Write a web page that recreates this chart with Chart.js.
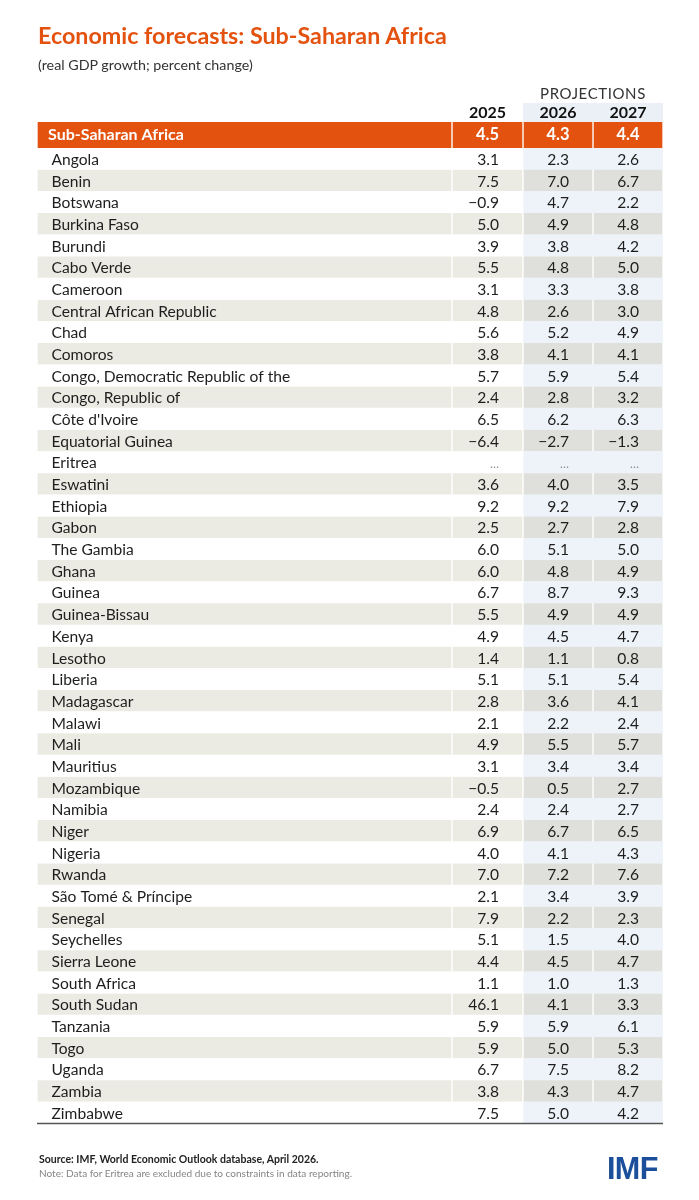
<!DOCTYPE html>
<html>
<head>
<meta charset="utf-8">
<title>Economic forecasts: Sub-Saharan Africa</title>
<script src="https://cdn.jsdelivr.net/npm/chart.js@4.4.1/dist/chart.umd.min.js"></script>
<style>
  html, body { margin: 0; padding: 0; background: #fff; }
  body { width: 699px; height: 1200px; position: relative; overflow: hidden; font-family: Lato, "Noto Sans", sans-serif; }
  #table { position: absolute; left: 0; top: 0; width: 699px; height: 1200px; }
  .txt { position: absolute; white-space: nowrap; line-height: 1; }
  .title { left: 38px; top: 24px; font-size: 23px; font-weight: 700; color: #e4520f; }
  .subtitle { left: 38px; top: 58px; font-size: 14px; color: #333; }
  .source { left: 39px; top: 1154px; font-size: 11.5px; font-weight: 700; color: #222; }
  .note { left: 39px; top: 1168px; font-size: 11px; color: #858585; }
  .logo { right: 41px; top: 1153px; font-family: "Liberation Sans", Arial, sans-serif; font-size: 28px; font-weight: 700; color: #1b4f9b; letter-spacing: -0.5px; }
</style>
</head>
<body>
<canvas id="table" width="699" height="1200"></canvas>
<div class="txt title" data-w="409">Economic forecasts: Sub-Saharan Africa</div>
<div class="txt subtitle" data-w="215">(real GDP growth; percent change)</div>
<div class="txt source" data-w="280">Source: IMF, World Economic Outlook database, April 2026.</div>
<div class="txt note" data-w="313">Note: Data for Eritrea are excluded due to constraints in data reporting.</div>
<div class="txt logo" data-w="51">IMF</div>
<script>
// values as printed in the table (null = not reported)
const regionName = 'Sub-Saharan Africa';
const regionGrowth = [4.5, 4.3, 4.4];
const years = ['2025', '2026', '2027'];
const projectionsLabel = 'PROJECTIONS';

const countries = [
    'Angola', 'Benin', 'Botswana', 'Burkina Faso', 'Burundi', 'Cabo Verde', 'Cameroon',
    'Central African Republic', 'Chad', 'Comoros', 'Congo, Democratic Republic of the',
    'Congo, Republic of', "Côte d'Ivoire", 'Equatorial Guinea', 'Eritrea', 'Eswatini',
    'Ethiopia', 'Gabon', 'The Gambia', 'Ghana', 'Guinea', 'Guinea-Bissau', 'Kenya',
    'Lesotho', 'Liberia', 'Madagascar', 'Malawi', 'Mali', 'Mauritius', 'Mozambique',
    'Namibia', 'Niger', 'Nigeria', 'Rwanda', 'São Tomé & Príncipe', 'Senegal',
    'Seychelles', 'Sierra Leone', 'South Africa', 'South Sudan', 'Tanzania', 'Togo',
    'Uganda', 'Zambia', 'Zimbabwe'
];

const growth2025 = [
    3.1, 7.5, -0.9, 5.0, 3.9, 5.5, 3.1, 4.8, 5.6, 3.8, 5.7, 2.4, 6.5, -6.4, null, 3.6,
    9.2, 2.5, 6.0, 6.0, 6.7, 5.5, 4.9, 1.4, 5.1, 2.8, 2.1, 4.9, 3.1, -0.5, 2.4, 6.9,
    4.0, 7.0, 2.1, 7.9, 5.1, 4.4, 1.1, 46.1, 5.9, 5.9, 6.7, 3.8, 7.5
];
const growth2026 = [
    2.3, 7.0, 4.7, 4.9, 3.8, 4.8, 3.3, 2.6, 5.2, 4.1, 5.9, 2.8, 6.2, -2.7, null, 4.0,
    9.2, 2.7, 5.1, 4.8, 8.7, 4.9, 4.5, 1.1, 5.1, 3.6, 2.2, 5.5, 3.4, 0.5, 2.4, 6.7,
    4.1, 7.2, 3.4, 2.2, 1.5, 4.5, 1.0, 4.1, 5.9, 5.0, 7.5, 4.3, 5.0
];
const growth2027 = [
    2.6, 6.7, 2.2, 4.8, 4.2, 5.0, 3.8, 3.0, 4.9, 4.1, 5.4, 3.2, 6.3, -1.3, null, 3.5,
    7.9, 2.8, 5.0, 4.9, 9.3, 4.9, 4.7, 0.8, 5.4, 4.1, 2.4, 5.7, 3.4, 2.7, 2.7, 6.5,
    4.3, 7.6, 3.9, 2.3, 4.0, 4.7, 1.3, 3.3, 6.1, 5.3, 8.2, 4.7, 4.2
];

// layout: x scale runs in table units (one unit = one pixel across the table)
const COL_EDGES = [0, 415, 486, 556, 626];
const HEADER_H = 26;
const ROW_H = 21.68;
const ORANGE = '#e4520f';

const columns = [growth2025, growth2026, growth2027];

// stretch the html texts to the widths measured on the original
document.querySelectorAll('.txt').forEach(el => {
    const w = el.getBoundingClientRect().width;
    const size = parseFloat(getComputedStyle(el).fontSize);
    el.style.fontSize = (size * Number(el.dataset.w) / w).toFixed(2) + 'px';
});

function fmt(v) {
    if (v === null || v === undefined) return '\u2026';
    return (v < 0 ? '\u2212' : '') + Math.abs(v).toFixed(1);
}

function cellColor(col, i) {
    const shaded = i % 2 === 1;
    if (col < 2) return shaded ? '#ecebe3' : '#ffffff';
    return shaded ? '#dfe0db' : '#eef3f9';
}

const separators = { left: 1, right: 1, top: 0, bottom: 0 };

function bodyDataset(col) {
    return {
        yAxisID: 'y',
        data: countries.map(() => [COL_EDGES[col], COL_EDGES[col + 1]]),
        backgroundColor: ctx => cellColor(col, ctx.dataIndex),
        borderColor: '#ffffff',
        borderWidth: ctx => (ctx.dataIndex % 2 === 1 ? separators : 0),
        borderSkipped: false,
        grouped: false,
        barPercentage: 1,
        categoryPercentage: 1
    };
}

function headerDataset(col) {
    return {
        yAxisID: 'yHead',
        data: [[COL_EDGES[col], COL_EDGES[col + 1]]],
        backgroundColor: ORANGE,
        borderColor: '#ffffff',
        borderWidth: separators,
        borderSkipped: false,
        grouped: false,
        barPercentage: 1,
        categoryPercentage: 1
    };
}

const datasets = [];
for (let c = 0; c < 4; c++) datasets.push(headerDataset(c));
for (let c = 0; c < 4; c++) datasets.push(bodyDataset(c));

const BODY = '#1e1e1e';

const tableText = {
    id: 'tableText',
    beforeDatasetsDraw(chart) {
        const { ctx, chartArea, scales: { x } } = chart;
        // light blue box behind the projection years
        const x0 = x.getPixelForValue(COL_EDGES[2]);
        const x1 = x.getPixelForValue(COL_EDGES[4]);
        ctx.save();
        ctx.fillStyle = '#ebf0f7';
        ctx.fillRect(x0, chartArea.top - 19, x1 - x0, 19);
        ctx.restore();
    },
    afterDatasetsDraw(chart) {
        const { ctx, chartArea, scales: { x, y, yHead } } = chart;
        const hY = yHead.getPixelForValue(0);
        const colMid = c => x.getPixelForValue((COL_EDGES[c + 1] + COL_EDGES[c + 2]) / 2);
        ctx.save();
        ctx.textBaseline = 'middle';

        // year headers
        ctx.fillStyle = '#111';
        ctx.font = 'bold 16px Lato, sans-serif';
        ctx.textAlign = 'center';
        years.forEach((yr, c) => ctx.fillText(yr, colMid(c), hY - 22));
        ctx.fillStyle = '#333';
        ctx.font = '15px Lato, sans-serif';
        ctx.letterSpacing = '0.6px';
        ctx.fillText(projectionsLabel, x.getPixelForValue((COL_EDGES[2] + COL_EDGES[4]) / 2), hY - 41);
        ctx.letterSpacing = '0px';

        // region row
        ctx.fillStyle = '#fff';
        ctx.font = 'bold 16px Lato, sans-serif';
        ctx.textAlign = 'left';
        ctx.fillText(regionName, x.getPixelForValue(11), hY);
        ctx.font = 'bold 16.5px Lato, sans-serif';
        ctx.textAlign = 'center';
        regionGrowth.forEach((v, c) => ctx.fillText(fmt(v), colMid(c), hY));

        // country rows
        countries.forEach((name, i) => {
            const ry = y.getPixelForValue(i) + 1;
            ctx.fillStyle = BODY;
            ctx.font = '15.6px Lato, sans-serif';
            ctx.textAlign = 'left';
            ctx.fillText(name, x.getPixelForValue(14.5), ry);
            ctx.textAlign = 'right';
            columns.forEach((series, c) => {
                const v = series[i];
                const rx = x.getPixelForValue(COL_EDGES[c + 2] - 24);
                if (v === null) {
                    ctx.fillStyle = '#8a8a8a';
                    ctx.font = '12px Lato, sans-serif';
                    ctx.fillText(fmt(v), rx, ry + 1);
                    ctx.fillStyle = BODY;
                    ctx.font = '15.6px Lato, sans-serif';
                } else {
                    ctx.fillText(fmt(v), rx, ry);
                }
            });
        });

        // bottom rule
        ctx.strokeStyle = '#555';
        ctx.lineWidth = 1.5;
        ctx.beginPath();
        ctx.moveTo(chartArea.left, chartArea.bottom);
        ctx.lineTo(chartArea.right, chartArea.bottom);
        ctx.stroke();
        ctx.restore();
    }
};

const tableTop = 122;
const tableBottom = tableTop + HEADER_H + countries.length * ROW_H;

new Chart(document.getElementById('table'), {
    type: 'bar',
    data: { labels: countries, datasets: datasets },
    options: {
        indexAxis: 'y',
        responsive: false,
        animation: false,
        layout: { padding: { top: tableTop, bottom: 1200 - tableBottom, left: 37, right: 36 } },
        scales: {
            x: { type: 'linear', min: COL_EDGES[0], max: COL_EDGES[4], display: false },
            yHead: {
                type: 'category', labels: [regionName], offset: true, display: false,
                position: 'left', stack: 'table', stackWeight: HEADER_H, weight: 2
            },
            y: {
                type: 'category', labels: countries, offset: true, display: false,
                position: 'left', stack: 'table', stackWeight: countries.length * ROW_H, weight: 1
            }
        },
        plugins: {
            legend: { display: false },
            tooltip: { enabled: false }
        }
    },
    plugins: [tableText]
});
</script>
</body>
</html>
